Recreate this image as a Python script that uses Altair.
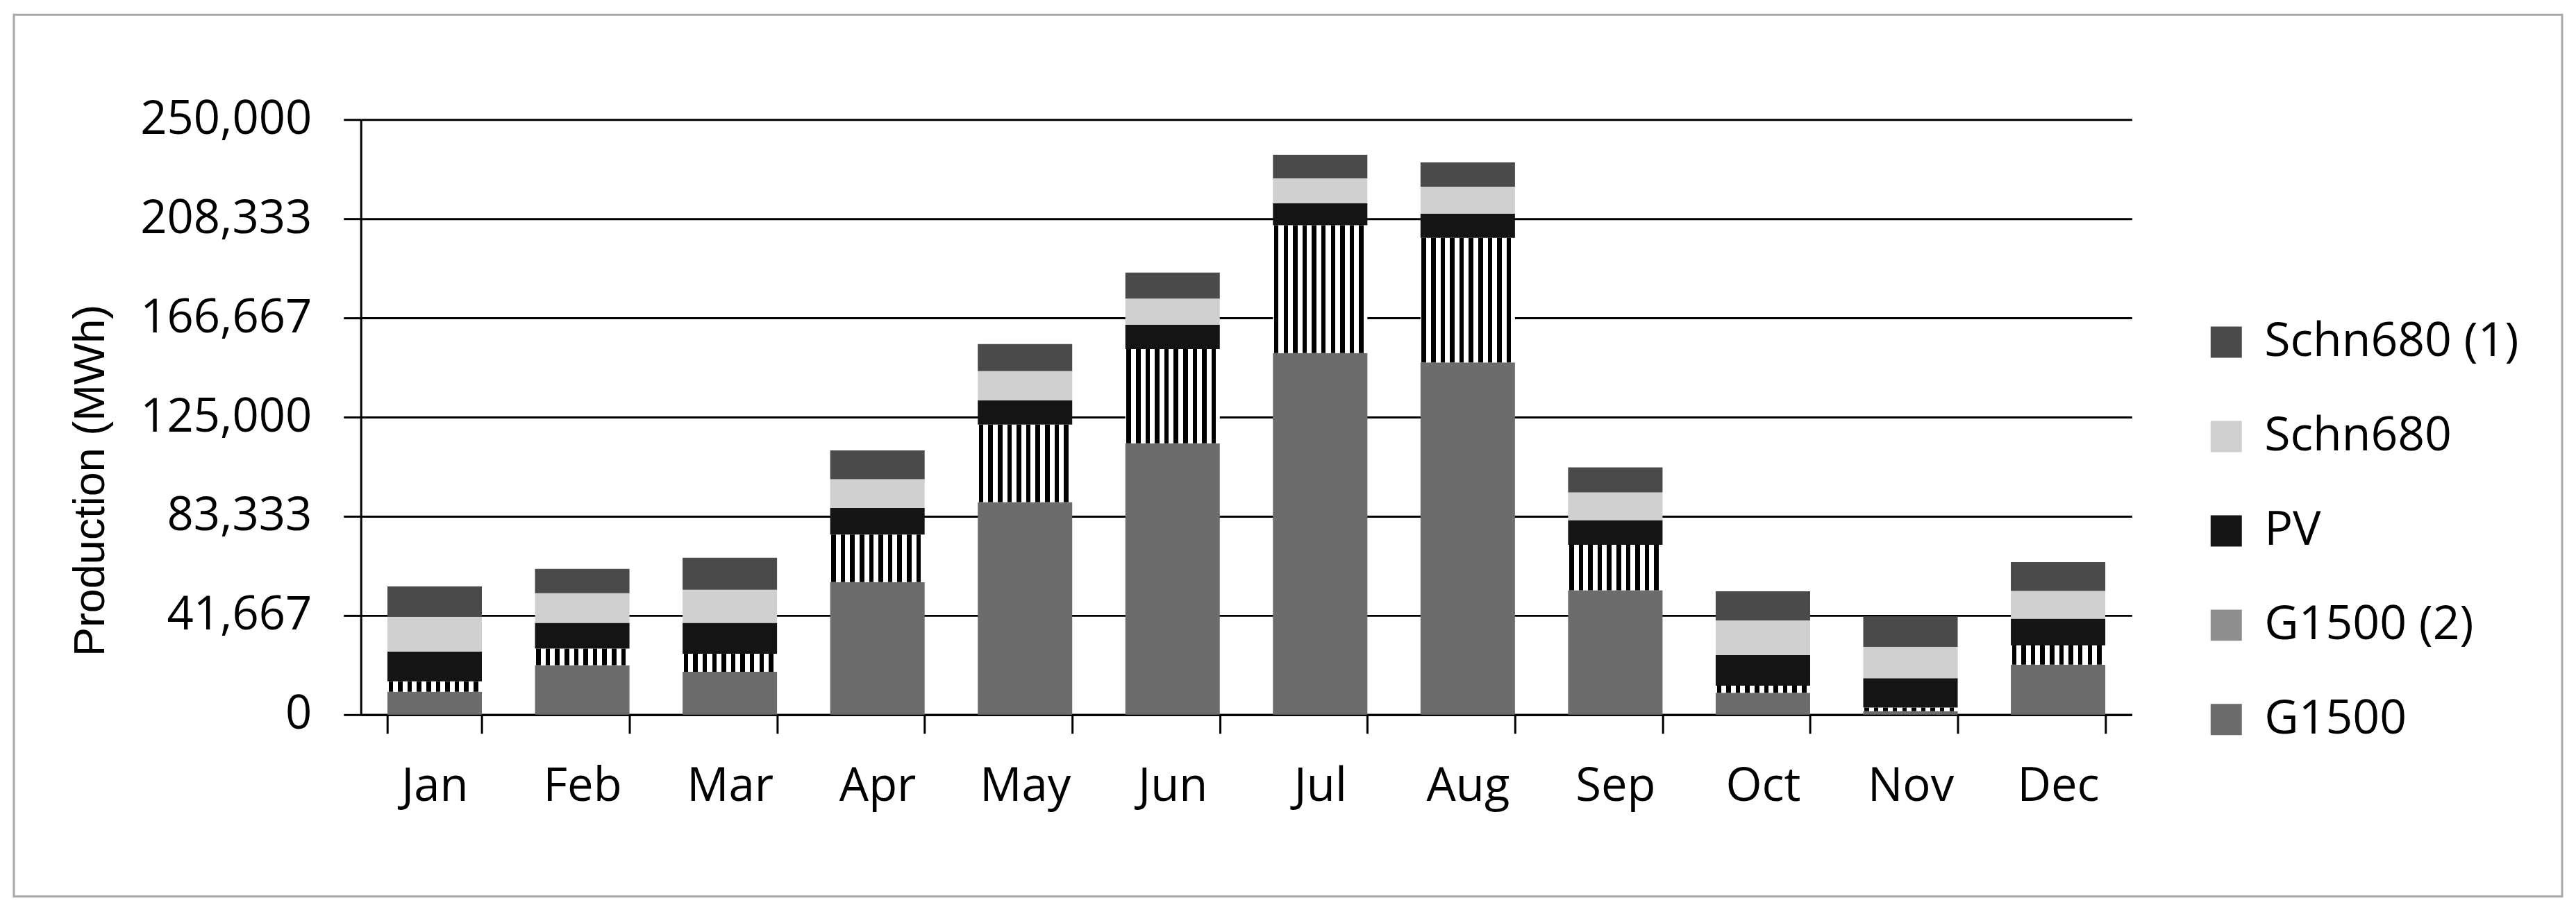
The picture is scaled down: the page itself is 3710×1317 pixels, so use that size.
import altair as alt
import pandas as pd

months = ["Jan", "Feb", "Mar", "Apr", "May", "Jun", "Jul", "Aug", "Sep", "Oct", "Nov", "Dec"]
series_names = ["G1500", "G1500 (2)", "PV", "Schn680", "Schn680 (1)"]

# production in thousand MWh
g1500 = [9.6, 20.8, 18.0, 55.7, 89.3, 114.0, 151.9, 148.0, 52.3, 9.2, 1.5, 21.0]
g1500_2 = [4.4, 7.0, 7.6, 20.0, 32.6, 39.6, 53.7, 52.3, 19.1, 3.0, 1.5, 8.1]
pv = [12.5, 10.8, 13.0, 11.2, 10.2, 10.2, 9.2, 10.1, 10.3, 12.8, 12.3, 11.2]
schn680 = [14.6, 12.4, 13.9, 12.0, 12.2, 11.0, 10.5, 11.4, 11.7, 14.6, 13.2, 11.7]
schn680_1 = [12.8, 10.2, 13.4, 12.1, 11.4, 10.9, 9.9, 10.2, 10.5, 12.2, 12.7, 12.1]

y_ticks = [0, 41667, 83333, 125000, 166667, 208333, 250000]

legend_order = ["Schn680 (1)", "Schn680", "PV", "G1500 (2)", "G1500"]
legend_colors = ["#4a4a4a", "#d0d0d0", "#141414", "#8e8e8e", "#6c6c6c"]

rows = []
for s_idx, (name, vals) in enumerate(zip(series_names, [g1500, g1500_2, pv, schn680, schn680_1])):
    for m, v in zip(months, vals):
        rows.append({"month": m, "series": name, "value": v * 1000, "order": s_idx})
df = pd.DataFrame(rows)

# vertical stripes for G1500 (2)
stops = []
n_stripes = 10
for i in range(n_stripes):
    a = i / n_stripes
    b = (i + 0.12) / n_stripes
    c = (i + 0.6) / n_stripes
    d = (i + 1) / n_stripes
    stops += [
        {"offset": a, "color": "#ffffff"},
        {"offset": b, "color": "#ffffff"},
        {"offset": b, "color": "#000000"},
        {"offset": c, "color": "#000000"},
        {"offset": c, "color": "#ffffff"},
        {"offset": d, "color": "#ffffff"},
    ]
stripes = {"gradient": "linear", "x1": 0, "y1": 0, "x2": 1, "y2": 0, "stops": stops}

FONT = "Open Sans"

bars = alt.Chart(df).mark_bar(strokeWidth=0).encode(
    x=alt.X(
        "month:N",
        sort=months,
        scale=alt.Scale(paddingInner=0.36, paddingOuter=0.18),
        axis=alt.Axis(
            title=None, labelAngle=0, labelFont=FONT, labelFontSize=67, labelColor="black",
            labelPadding=44, labelBaseline="top", labelLimit=0, tickBand="extent", tickSize=27,
            tickWidth=3, tickColor="black", domainColor="black", domainWidth=3, grid=False,
        ),
    ),
    y=alt.Y(
        "value:Q",
        stack="zero",
        scale=alt.Scale(domain=[0, 250000], nice=False),
        axis=alt.Axis(
            values=y_ticks, format=",.0f", title="Production (MWh)",
            titleFont="Liberation Sans", titleFontSize=63, titleFontWeight="normal", titleColor="black",
            titleAngle=270, titleAlign="center", titleBaseline="alphabetic", titleX=-370, titleY=520,
            labelFont=FONT, labelFontSize=67, labelColor="black", labelPadding=46, labelLimit=0,
            tickSize=25, tickWidth=3, tickColor="black", domainColor="black", domainWidth=3,
            grid=True, gridColor="black", gridWidth=3,
        ),
    ),
    color=alt.condition(
        "datum.series === 'G1500 (2)'",
        alt.value(stripes),
        alt.Color(
            "series:N",
            scale=alt.Scale(domain=legend_order, range=legend_colors),
            legend=alt.Legend(
                title=None, orient="none", legendX=2654, legendY=287, symbolType="square",
                symbolSize=2025, symbolStrokeWidth=0, labelFont=FONT, labelFontSize=68,
                labelColor="black", labelLimit=0, rowPadding=68, labelOffset=21, padding=0,
            ),
        ),
    ),
    order=alt.Order("order:Q"),
)

border = alt.Chart(alt.Data(values=[{"b": 1}])).mark_rect(
    filled=False, stroke="#a8a8a8", strokeWidth=3
).encode(
    x=alt.value(-500), x2=alt.value(3172), y=alt.value(-151), y2=alt.value(1120)
)

chart = alt.layer(border, bars).properties(
    width=2552,
    height=858,
    padding={"left": 10, "top": 11, "right": 10, "bottom": 10},
    background="white",
).configure_view(stroke="transparent")

chart.save("out.html", embed_options={"renderer": "svg", "actions": False})
